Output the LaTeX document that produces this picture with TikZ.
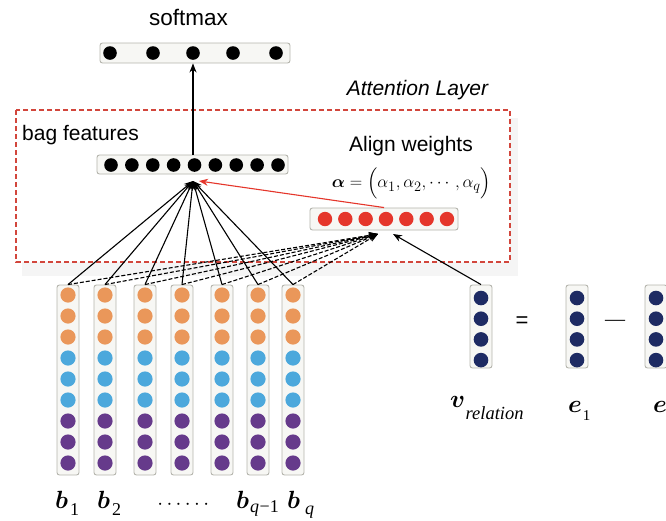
\documentclass[tikz,border=0pt]{standalone}
\usepackage{amsmath}
\usepackage[no-math]{fontspec}
\setmainfont{Liberation Sans}
\newfontfamily\tms{Liberation Serif}
\usetikzlibrary{arrows.meta}

\definecolor{boxline}{HTML}{B4B4AC}
\definecolor{boxfill}{HTML}{F7F7F4}
\definecolor{dotred}{HTML}{E5362B}
\definecolor{dotorange}{HTML}{EA975A}
\definecolor{dotblue}{HTML}{4CA8DC}
\definecolor{dotpurple}{HTML}{663A8B}
\definecolor{dotnavy}{HTML}{1E2B63}
\definecolor{framered}{HTML}{D2463C}

% bold italic vector symbol with a lowered subscript
\newcommand{\bsym}[1]{{\fontsize{27}{27}\selectfont$\boldsymbol{#1}$}}
\newcommand{\vecsym}[4]{\bsym{#1}\kern#4\raisebox{-#3}{\tms\fontsize{18}{18}\selectfont #2}}

\begin{document}
\begin{tikzpicture}[x=1pt,y=-1pt,
  vecbox/.style={draw=boxline, fill=boxfill, rounded corners=2.5pt, line width=0.9pt, inner sep=0pt},
  lbl/.style={font=\fontsize{21}{24}\selectfont, inner sep=0pt},
  conn/.style={line width=1.1pt, -{Stealth[length=9pt,width=7pt]}},
  dconn/.style={conn, dash pattern=on 4pt off 2pt},
  vlabel/.style={inner sep=0pt, anchor=base west}]
\useasboundingbox (0,0) rectangle (666,520);

% attention layer frame with a soft shadow
\fill[gray!8] (22,118) rectangle (518,276);
\draw[framered, fill=white, line width=1.5pt, dash pattern=on 5pt off 3pt] (16,110) rectangle (510,262);

% texts
\node[lbl, anchor=base, font=\fontsize{22.5}{24}\selectfont] (tsoft) at (188.5,25) {softmax};
\node[lbl, anchor=base, font=\fontsize{21}{24}\selectfont\itshape] (tatt) at (417.5,95) {Attention Layer};
\node[lbl, anchor=base west] (tbag) at (22,140) {bag features};
\node[lbl, anchor=base] (talign) at (411,151) {Align weights};
\node[inner sep=0pt, font=\fontsize{19}{24}\selectfont] (talpha) at (411.5,183.5)
  {$\boldsymbol{\alpha}=\Bigl(\alpha_1,\alpha_2,\cdots,\alpha_q\Bigr)$};

% softmax vector
\node[vecbox, minimum width=190pt, minimum height=20pt] (soft) at (195,53) {};
\foreach \x in {110,153,193,233,276} \fill[black] (\x,53) circle (6.8);

% bag feature vector
\node[vecbox, minimum width=191pt, minimum height=19pt] (bag) at (192.5,164.5) {};
\foreach \k in {0,...,8} \fill[black] (111+20.875*\k,165) circle (6.8);

% attention weights
\node[vecbox, minimum width=148pt, minimum height=22pt] (att) at (384,219) {};
\foreach \k in {0,...,6} \fill[dotred] (325+20.33*\k,219) circle (7.2);

% sentence vectors b_1 ... b_q
\foreach \x [count=\i] in {68,105,145,182,222,258,293} {
  \node[vecbox, minimum width=22pt, minimum height=190pt] (col\i) at (\x,380) {};
  \foreach \k in {0,1,2} \fill[dotorange] (\x,295+21*\k) circle (7.6);
  \foreach \k in {3,4,5} \fill[dotblue] (\x,295+21*\k) circle (7.6);
  \foreach \k in {6,7,8} \fill[dotpurple] (\x,295+21*\k) circle (7.6);
}

% relation vectors
\foreach \nm/\x in {vrel/481, ea/577, eb/656} {
  \node[vecbox, minimum width=22pt, minimum height=83pt] (\nm) at (\x,326.5) {};
  \foreach \k in {0,...,3} \fill[dotnavy] (\x,298+20.7*\k) circle (7.3);
}
\node[inner sep=0pt, font=\fontsize{22}{24}\selectfont] (eq) at (522,322) {=};
\node[inner sep=0pt, font=\tms\fontsize{20}{24}\selectfont] (minus) at (615,323) {\textemdash};

% labels
\node[vlabel] (lb1) at (55,508) {\vecsym{b}{1}{7pt}{2pt}};
\node[vlabel] (lb2) at (97,508) {\vecsym{b}{2}{7pt}{2pt}};
\node[inner sep=0pt, font=\fontsize{20}{20}\selectfont] (ldots) at (185,505) {$\cdots\cdots$};
\node[vlabel] (lbq1) at (236,508) {\vecsym{b}{\textit{q}\kern0.5pt−1}{4pt}{1pt}};
\node[vlabel] (lbq) at (287,508) {\vecsym{b}{\textit{q}}{6pt}{5pt}};
\node[vlabel] (lv) at (450,407) {\bsym{v}\kern0.5pt\raisebox{-12pt}{\tms\fontsize{18.5}{18.5}\selectfont\itshape relation}};
\node[vlabel] (le1) at (568,412) {\bsym{e}\kern1pt\raisebox{-8pt}{\tms\fontsize{15}{15}\selectfont 1}};
\node[vlabel] (le2) at (653,412) {\bsym{e}\kern1pt\raisebox{-8pt}{\tms\fontsize{15}{15}\selectfont 2}};

% connectors
\coordinate (hub) at (193,181);
\coordinate (hubr) at (378,234);
\coordinate (hubv) at (393,234);
\coordinate (redin) at (199,181);
\foreach \i in {1,...,7} \draw[dconn] (col\i.north) -- (hubr);
\foreach \i in {1,...,7} \draw[conn] (col\i.north) -- (hub);
\draw[conn] (vrel.north) -- (hubv);
\draw[conn, draw=dotred, -{Stealth[length=9pt,width=7pt,fill=dotred]}] (att.north) -- (redin);
\draw[conn] (bag.north -| hub) -- (soft.south -| hub);
\end{tikzpicture}
\end{document}
